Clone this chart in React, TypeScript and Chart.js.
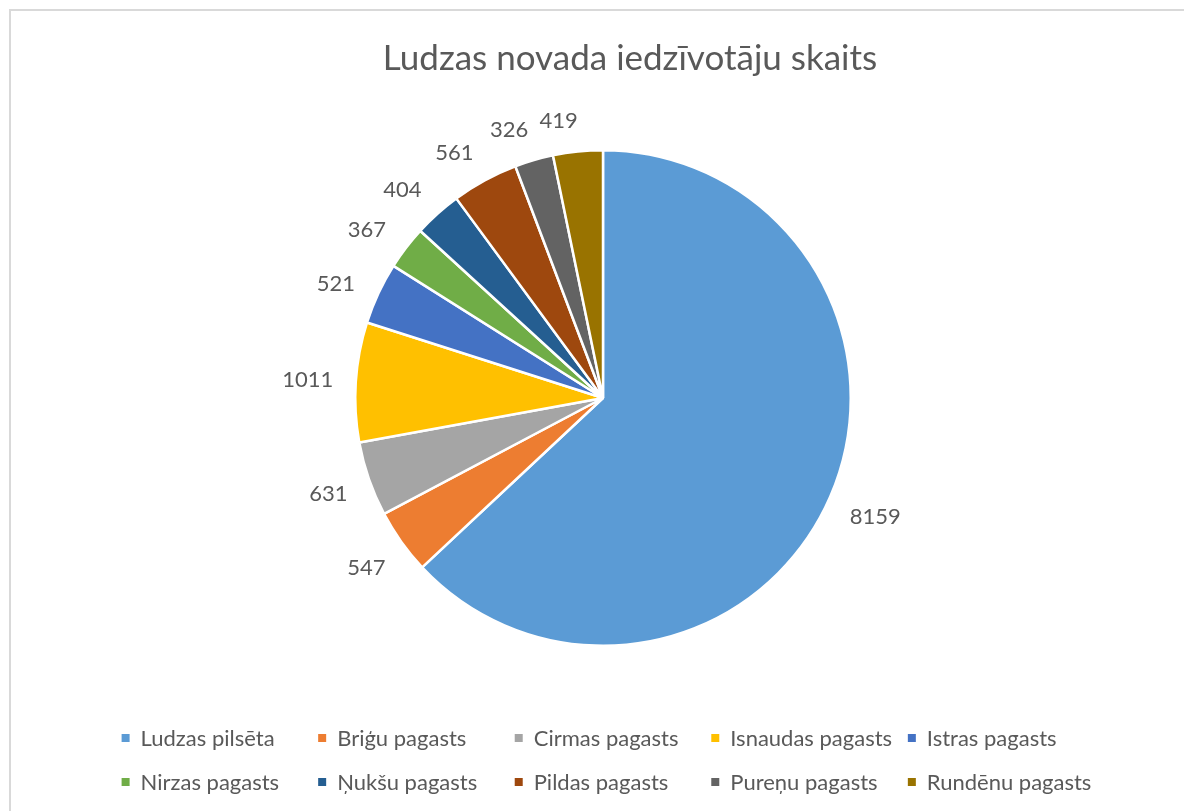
import React, { useEffect, useRef } from "react";
import { Chart, registerables } from "chart.js";

Chart.register(...registerables);

const TITLE = "Ludzas novada iedzīvotāju skaits";
const categories = [
  "Ludzas pilsēta",
  "Briģu pagasts",
  "Cirmas pagasts",
  "Isnaudas pagasts",
  "Istras pagasts",
  "Nirzas pagasts",
  "Ņukšu pagasts",
  "Pildas pagasts",
  "Pureņu pagasts",
  "Rundēnu pagasts",
];
const values = [8159, 547, 631, 1011, 521, 367, 404, 561, 326, 419];
const colors = [
  "#5B9BD5",
  "#ED7D31",
  "#A5A5A5",
  "#FFC000",
  "#4472C4",
  "#70AD47",
  "#255E91",
  "#9E480E",
  "#636363",
  "#997300",
];

const FONT = "Lato, 'Open Sans', sans-serif";
const TEXT_COLOR = "#595959";
const LABEL_SIZE = 22;
const LEGEND_SIZE = 22;
const TITLE_SIZE = 35;

const decorPlugin = {
  id: "decor",
  beforeDraw(chart: any) {
    const ctx = chart.ctx;
    ctx.save();
    ctx.fillStyle = "#ffffff";
    ctx.fillRect(0, 0, chart.width, chart.height);
    ctx.strokeStyle = "#d9d9d9";
    ctx.lineWidth = 2;
    ctx.strokeRect(10, 10, chart.width + 50, chart.height + 50);
    ctx.restore();
  },
  afterDatasetsDraw(chart: any) {
    const ctx = chart.ctx;
    const meta = chart.getDatasetMeta(0);
    ctx.save();
    ctx.font = `${LABEL_SIZE}px ${FONT}`;
    ctx.fillStyle = TEXT_COLOR;
    ctx.textAlign = "center";
    ctx.textBaseline = "middle";
    meta.data.forEach((arc: any, i: number) => {
      const p = arc.getProps(["startAngle", "endAngle", "outerRadius", "x", "y"], true);
      // Excel-like slight spreading of the crowded upper-left labels
      let mid = (p.startAngle + p.endAngle) / 2;
      const c0 = Math.cos(mid);
      const s0 = Math.sin(mid);
      if (c0 < 0 && s0 < -0.3) mid -= 0.03 * (1 + Math.max(0, -s0 - 0.7) * 3);
      const c = Math.cos(mid);
      const s = Math.sin(mid);
      const text = String(values[i]);
      const w = ctx.measureText(text).width;
      const hh = 9;
      const d = p.outerRadius + 22 + (w / 2) * Math.abs(c) + hh * Math.abs(s);
      ctx.fillText(text, p.x + d * c, p.y + d * s + 1);
    });
    ctx.restore();
  },
  afterDraw(chart: any) {
    const ctx = chart.ctx;
    ctx.save();
    // title
    ctx.font = `${TITLE_SIZE}px ${FONT}`;
    ctx.fillStyle = TEXT_COLOR;
    ctx.textAlign = "center";
    ctx.textBaseline = "middle";
    ctx.fillText(TITLE, 630, 59);
    // legend
    ctx.font = `${LEGEND_SIZE}px ${FONT}`;
    const cols = 5;
    let maxW = 0;
    categories.forEach((c) => {
      maxW = Math.max(maxW, ctx.measureText(c).width);
    });
    const colW = maxW + 32;
    const total = colW * cols;
    const startX = 613 - total / 2;
    const rowY = [738, 782];
    ctx.textAlign = "left";
    categories.forEach((c, i) => {
      const col = i % cols;
      const row = Math.floor(i / cols);
      const x = startX + col * colW;
      const y = rowY[row];
      ctx.fillStyle = colors[i];
      ctx.fillRect(x, y - 4, 8, 8);
      ctx.fillStyle = TEXT_COLOR;
      ctx.fillText(c, x + 19, y + 1);
    });
    ctx.restore();
  },
};

export default function App() {
  const ref = useRef<HTMLCanvasElement>(null);
  useEffect(() => {
    if (!ref.current) return;
    const chart = new Chart(ref.current, {
      type: "pie",
      data: {
        labels: categories,
        datasets: [
          {
            data: values,
            backgroundColor: colors,
            borderColor: "#ffffff",
            borderWidth: 2.5,
          },
        ],
      },
      options: {
        animation: false,
        responsive: false,
        maintainAspectRatio: false,
        layout: { padding: { top: 149, bottom: 164, left: 354, right: 332 } },
        plugins: {
          legend: { display: false },
          title: { display: false },
          tooltip: { enabled: false },
        },
      },
      plugins: [decorPlugin],
    });
    return () => chart.destroy();
  }, []);
  return (
    <div style={{ position: "absolute", left: 0, top: 0, width: 1184, height: 811, background: "#fff" }}>
      <canvas ref={ref} width={1184} height={811} style={{ display: "block" }} />
    </div>
  );
}
